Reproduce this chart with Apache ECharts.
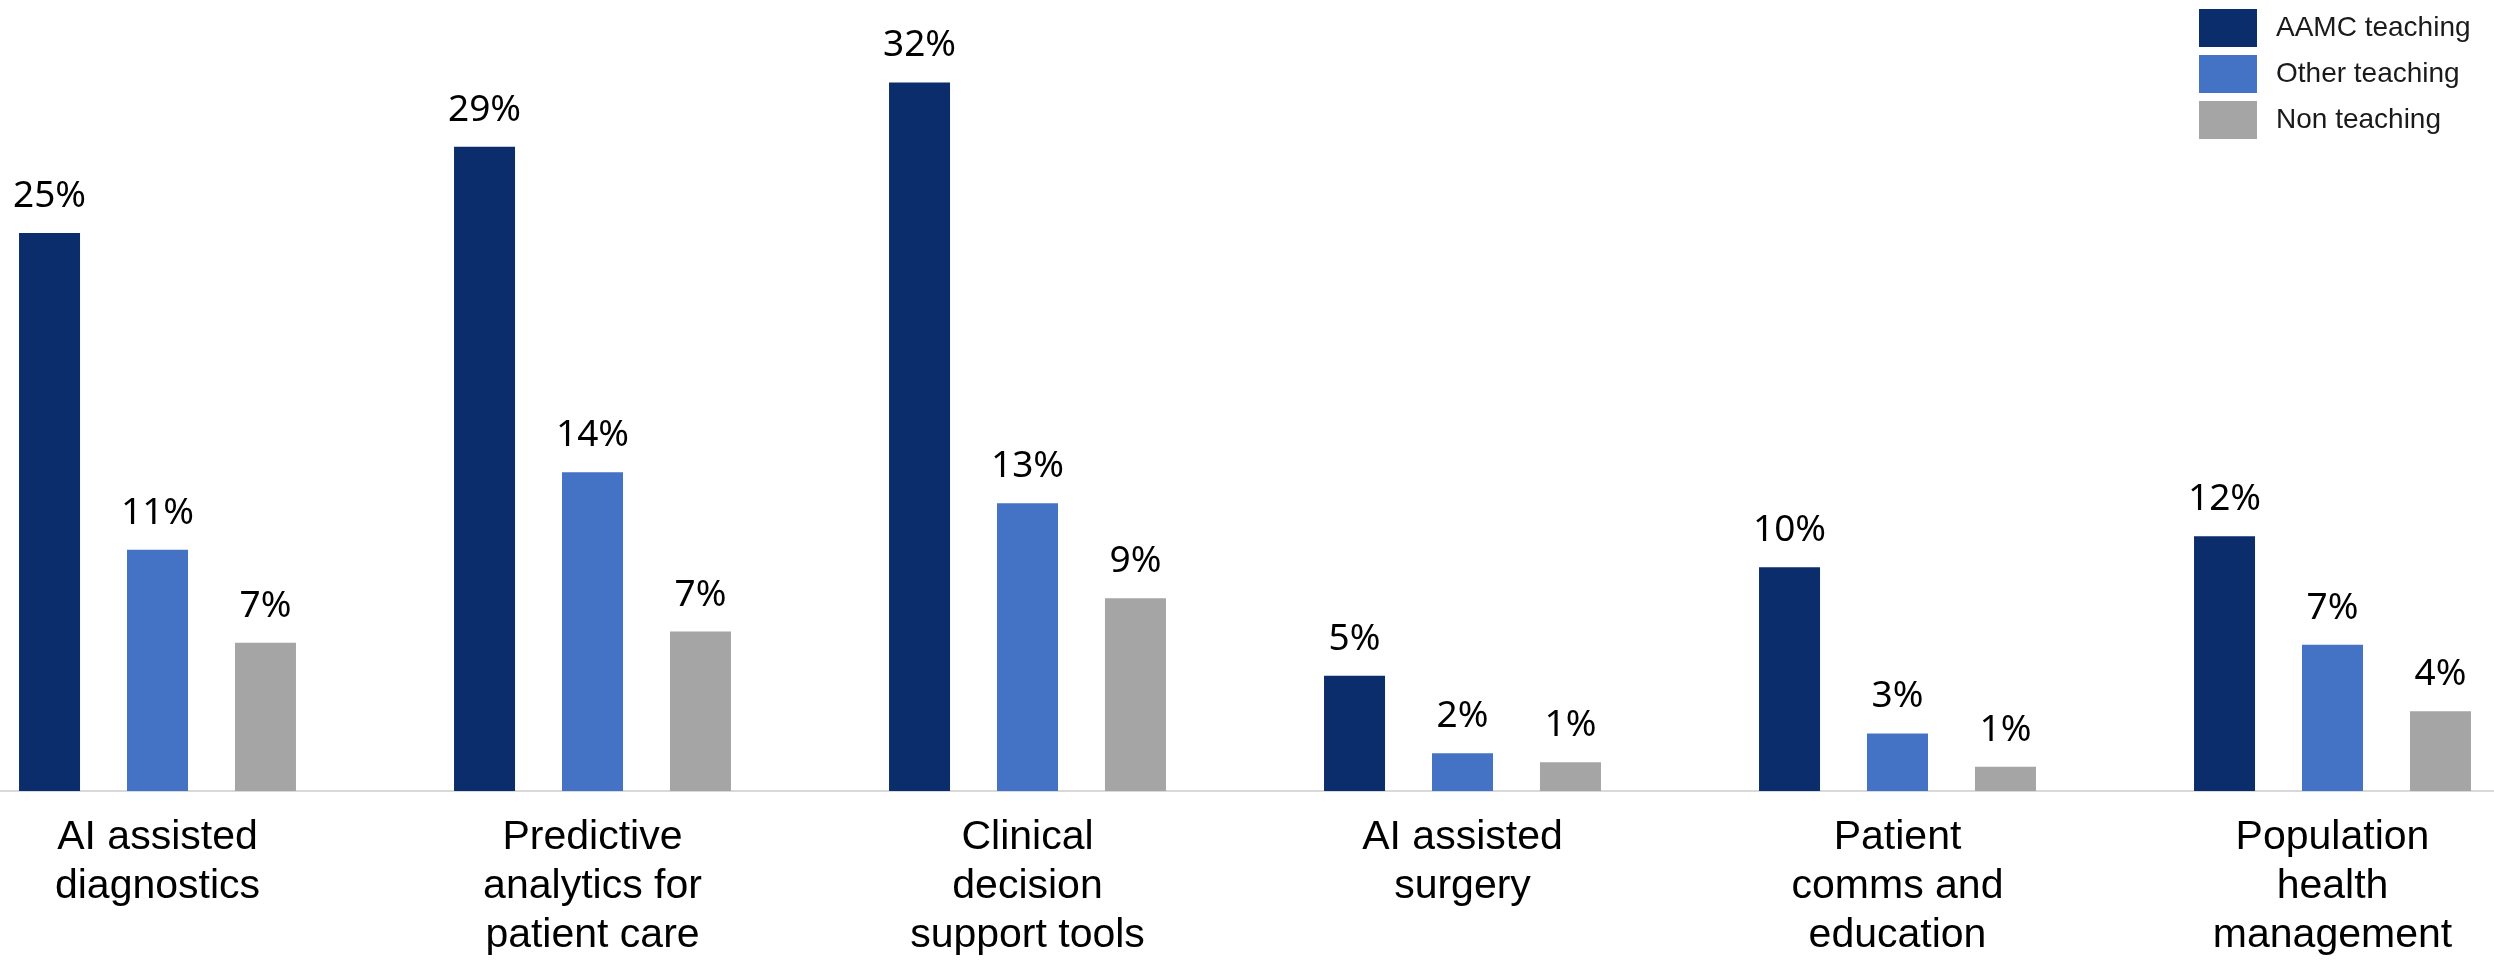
<!DOCTYPE html>
<html>
<head>
<meta charset="utf-8">
<script src="https://cdn.jsdelivr.net/npm/echarts@6/dist/echarts.min.js"></script>
<style>
  html, body { margin: 0; padding: 0; background: #fff; overflow: hidden; }
  /* the original plot is cropped: first band starts 60px left of the page */
  #chart { width: 2610px; height: 960px; margin-left: -60px; }
</style>
</head>
<body>
<div id="chart"></div>
<script>
// data
const categories = [
  'AI assisted\ndiagnostics',
  'Predictive\nanalytics for\npatient care',
  'Clinical\ndecision\nsupport tools',
  'AI assisted\nsurgery',
  'Patient\ncomms and\neducation',
  'Population\nhealth\nmanagement'
]
const seriesNames = ['AAMC teaching', 'Other teaching', 'Non teaching']
const aamcValues = [25.2, 29.1, 32.0, 5.2, 10.1, 11.5]
const otherValues = [10.9, 14.4, 13.0, 1.7, 2.6, 6.6]
const nonValues = [6.7, 7.2, 8.7, 1.3, 1.1, 3.6]
const colors = ['#0B2D6B', '#4472C4', '#A5A5A5']

const chart = echarts.init(document.getElementById('chart'))

function makeSeries(name, data, color) {
  return {
    name: name,
    type: 'bar',
    data: data,
    barWidth: 61,
    barGap: '77%',
    itemStyle: { color: color },
    label: {
      show: true,
      position: 'top',
      distance: 18,
      color: '#000',
      fontFamily: 'Noto Sans',
      fontSize: 37,
      formatter: (p) => Math.round(p.value) + '%'
    }
  }
}

const option = {
  animation: false,
  backgroundColor: '#fff',
  legend: {
    orient: 'vertical',
    left: 2254,
    top: 4,
    itemWidth: 58,
    itemHeight: 38,
    itemGap: 8,
    icon: 'rect',
    textStyle: {
      fontFamily: 'Liberation Sans',
      fontSize: 28,
      color: '#1a1a1a',
      padding: [0, 0, 0, 14]
    },
    data: seriesNames
  },
  grid: {
    left: 0,
    right: 0,
    top: 16,
    bottom: 165,
    containLabel: false
  },
  xAxis: {
    type: 'category',
    data: categories,
    axisLine: { lineStyle: { color: '#D9D9D9', width: 2 } },
    axisTick: { show: false },
    axisLabel: {
      interval: 0,
      margin: 22,
      color: '#000',
      fontFamily: 'Liberation Sans',
      fontSize: 41,
      lineHeight: 49,
      align: 'center'
    }
  },
  yAxis: {
    type: 'value',
    min: 0,
    max: 35,
    show: false,
    splitLine: { show: false }
  },
  series: [
    makeSeries(seriesNames[0], aamcValues, colors[0]),
    makeSeries(seriesNames[1], otherValues, colors[1]),
    makeSeries(seriesNames[2], nonValues, colors[2])
  ]
}

chart.setOption(option)
</script>
</body>
</html>
